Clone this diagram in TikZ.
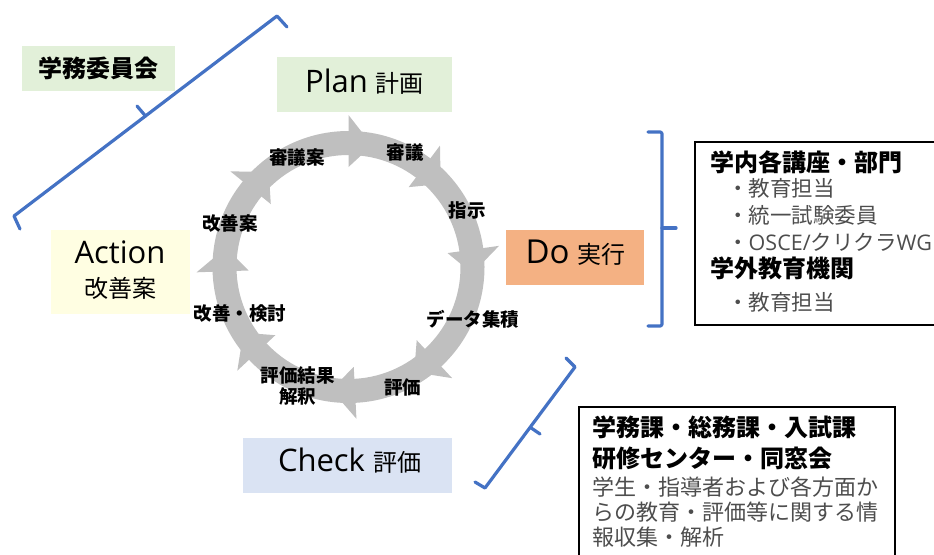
\documentclass[tikz,border=0pt]{standalone}
\usepackage{fontspec}
\setmainfont{Noto Sans CJK JP}
\newfontfamily\lat{Open Sans}
\definecolor{greenfill}{HTML}{E2F0D9}
\definecolor{yellowfill}{HTML}{FFFEE2}
\definecolor{orangefill}{HTML}{F4B183}
\definecolor{bluefill}{HTML}{DAE3F3}
\definecolor{ringgray}{HTML}{BFBFBF}
\definecolor{bracketblue}{HTML}{4472C4}
\definecolor{textgray}{HTML}{4D4D4D}
\tikzset{
  bracket/.style={draw=bracketblue, line width=3.2pt, line cap=round, line join=round},
  lbl/.style={font=\fontsize{18.5}{21}\selectfont\bfseries, inner sep=0pt, align=center},
  headline/.style={font=\fontsize{24}{24}\selectfont\bfseries, anchor=base west, inner sep=0pt},
  itemline/.style={font=\fontsize{21.5}{21.5}\selectfont, text=textgray, anchor=base west, inner sep=0pt},
  itemlinetwo/.style={font=\fontsize{22}{22}\selectfont, text=textgray, anchor=base west, inner sep=0pt},
  phasebox/.style={inner sep=0pt, draw=none},
  phasetext/.style={anchor=base, inner sep=0pt},
  listbox/.style={draw=black, line width=1.5pt, inner sep=0pt, anchor=north west}
}
\begin{document}
\begin{tikzpicture}[x=1pt,y=-1pt]
\useasboundingbox (0,0) rectangle (934,554);
\clip (0,0) rectangle (934,554);

% ---- ring with arrowheads ----
\begin{scope}[shift={(348.5,267)}, yscale=-1]
  \fill[ringgray, even odd rule] (0,0) circle[radius=136] (0,0) circle[radius=112];
  \foreach \b in {90,53,8,-47,-87,-137,-178,141}
    \fill[ringgray] (\b:100) -- (\b:152) -- ({\b-11}:124) -- cycle;
\end{scope}

% ---- phase boxes ----
\node[phasebox, fill=greenfill, minimum width=153pt, minimum height=45pt] (iinkaibox) at (98.5,68.5) {};
\node[inner sep=0pt, font=\fontsize{24}{24}\selectfont\bfseries] (iinkai) at (98,68) {学務委員会};

\node[phasebox, fill=greenfill, minimum width=175pt, minimum height=55pt] (planbox) at (364.5,84.5) {};
\node[phasetext] (plan) at (364.5,92) {{\lat\fontsize{31}{31}\selectfont Plan}\hspace{8pt}{\fontsize{24}{24}\selectfont 計画}};

\node[phasebox, fill=orangefill, minimum width=138pt, minimum height=55pt] (dobox) at (575,257.5) {};
\node[phasetext] (do) at (575.5,263) {{\lat\fontsize{33}{33}\selectfont Do}\hspace{8pt}{\fontsize{24}{24}\selectfont 実行}};

\node[phasebox, fill=yellowfill, minimum width=139pt, minimum height=84pt] (actionbox) at (120.5,272) {};
\node[phasetext] (action) at (120,263) {\lat\fontsize{31}{31}\selectfont Action};
\node[phasetext] (actionjp) at (120.5,297) {\fontsize{24}{24}\selectfont 改善案};

\node[phasebox, fill=bluefill, minimum width=209pt, minimum height=55pt] (checkbox) at (347.5,465.5) {};
\node[phasetext] (check) at (349.5,471) {{\lat\fontsize{31}{31}\selectfont Check}\hspace{8pt}{\fontsize{24}{24}\selectfont 評価}};

% ---- ring labels ----
\node[lbl] (l1) at (297,157) {審議案};
\node[lbl] (l2) at (405,152) {審議};
\node[lbl] (l3) at (467,210) {指示};
\node[lbl] (l4) at (230,223) {改善案};
\node[lbl] (l5) at (240,313) {改善・検討};
\node[lbl] (l6) at (473,319) {データ集積};
\node[lbl] (l7) at (297.5,385.5) {評価結果\\解釈};
\node[lbl] (l8) at (402.5,387) {評価};

% ---- brackets ----
\coordinate (a1) at (287,27);
\coordinate (a2) at (277,16);
\coordinate (a3) at (14,216);
\coordinate (a4) at (20,229);
\coordinate (am) at (145.5,116);
\coordinate (at) at (137,106);
\draw[bracket] (a1) -- (a2) -- (a3) -- (a4);
\draw[bracket] (am) -- (at);

\coordinate (b1) at (648,132);
\coordinate (b2) at (662,132);
\coordinate (b3) at (662,326);
\coordinate (b4) at (648,326);
\coordinate (bm) at (662,228);
\coordinate (bt) at (676,228);
\draw[bracket, rounded corners=2pt] (b1) -- (b2) -- (b3) -- (b4);
\draw[bracket] (bm) -- (bt);

\coordinate (c1) at (566,358);
\coordinate (c2) at (575,367);
\coordinate (c3) at (485,488);
\coordinate (c4) at (475,482);
\coordinate (cm) at (530.5,427.5);
\coordinate (ct) at (540,434);
\draw[bracket] (c1) -- (c2) -- (c3) -- (c4);
\draw[bracket] (cm) -- (ct);

% ---- right list box 1 ----
\node[listbox, minimum width=250pt, minimum height=183pt] (unibox) at (694,141) {};
\node[headline] (u1) at (710,171) {学内各講座・部門};
\node[itemline] (u2) at (727,196) {・教育担当};
\node[itemline] (u3) at (727,223) {・統一試験委員};
\node[itemline] (u4) at (727,250) {・{\lat OSCE/}クリクラ{\lat WG}};
\node[headline] (u5) at (710,277) {学外教育機関};
\node[itemline] (u6) at (727,310) {・教育担当};

% ---- right list box 2 ----
\node[listbox, minimum width=316pt, minimum height=160pt] (officebox) at (578,406) {};
\node[headline] (o1) at (592,436) {学務課・総務課・入試課};
\node[headline] (o2) at (592,467) {研修センター・同窓会};
\node[itemlinetwo] (o3) at (592,495) {学生・指導者および各方面か};
\node[itemlinetwo] (o4) at (592,520) {らの教育・評価等に関する情};
\node[itemlinetwo] (o5) at (592,545) {報収集・解析};
\end{tikzpicture}
\end{document}
